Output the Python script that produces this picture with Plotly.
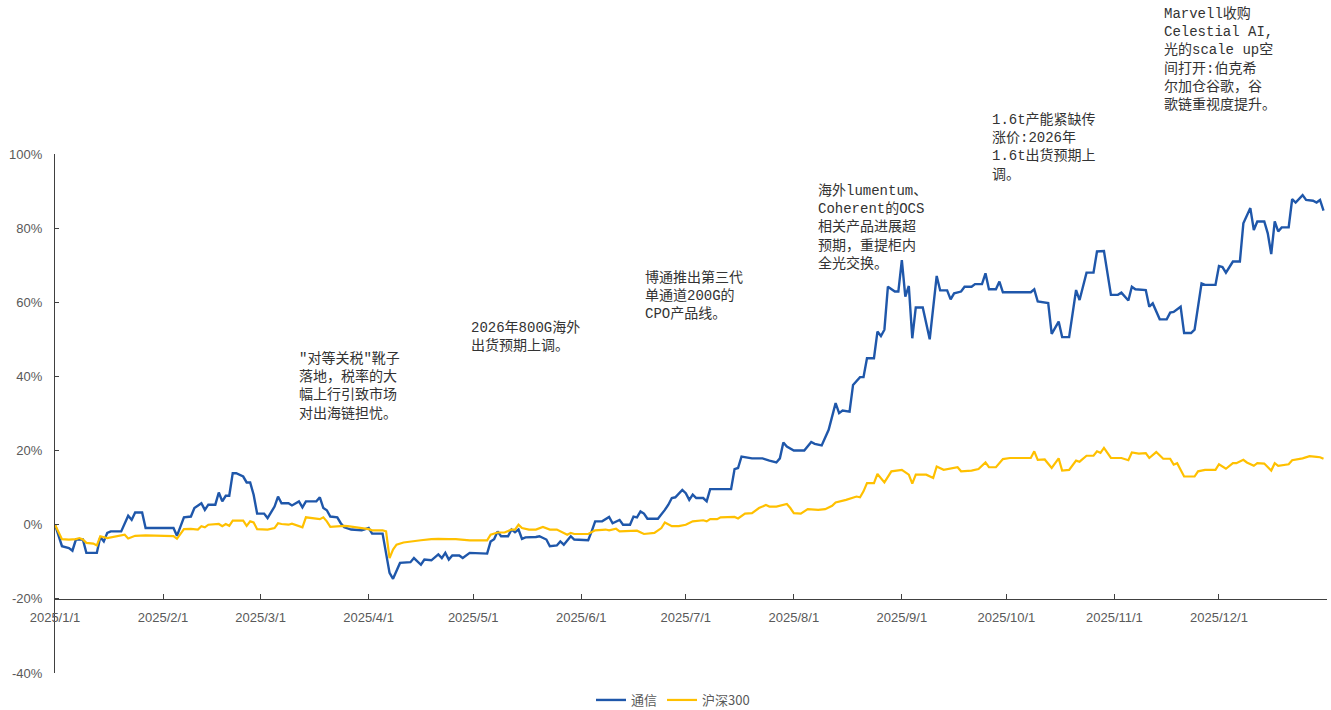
import plotly.graph_objects as go

# 通信 sector cumulative return (%)
tx_dates = [
    "2025-01-01", "2025-01-03", "2025-01-05", "2025-01-06", "2025-01-07", "2025-01-09", "2025-01-10",
    "2025-01-13", "2025-01-14", "2025-01-15", "2025-01-16", "2025-01-17", "2025-01-20", "2025-01-22",
    "2025-01-23", "2025-01-24", "2025-01-26", "2025-01-27", "2025-02-04", "2025-02-05", "2025-02-07",
    "2025-02-09", "2025-02-10", "2025-02-12", "2025-02-13", "2025-02-14", "2025-02-16", "2025-02-17",
    "2025-02-18", "2025-02-19", "2025-02-20", "2025-02-21", "2025-02-22", "2025-02-24", "2025-02-25",
    "2025-02-26", "2025-02-27", "2025-02-28", "2025-03-02", "2025-03-03", "2025-03-05", "2025-03-06",
    "2025-03-07", "2025-03-09", "2025-03-10", "2025-03-12", "2025-03-13", "2025-03-14", "2025-03-17",
    "2025-03-18", "2025-03-19", "2025-03-20", "2025-03-21", "2025-03-23", "2025-03-24", "2025-03-25",
    "2025-03-27", "2025-03-30", "2025-04-01", "2025-04-02", "2025-04-05", "2025-04-07", "2025-04-08",
    "2025-04-09", "2025-04-10", "2025-04-13", "2025-04-14", "2025-04-16", "2025-04-17", "2025-04-19",
    "2025-04-21", "2025-04-22", "2025-04-23", "2025-04-24", "2025-04-25", "2025-04-27", "2025-04-28",
    "2025-04-30", "2025-05-05", "2025-05-06", "2025-05-07", "2025-05-08", "2025-05-09", "2025-05-11",
    "2025-05-12", "2025-05-13", "2025-05-14", "2025-05-15", "2025-05-16", "2025-05-19", "2025-05-20",
    "2025-05-22", "2025-05-23", "2025-05-25", "2025-05-26", "2025-05-27", "2025-05-29", "2025-05-30",
    "2025-06-03", "2025-06-04", "2025-06-05", "2025-06-07", "2025-06-09", "2025-06-10", "2025-06-12",
    "2025-06-13", "2025-06-15", "2025-06-16", "2025-06-17", "2025-06-18", "2025-06-19", "2025-06-20",
    "2025-06-23", "2025-06-25", "2025-06-26", "2025-06-27", "2025-06-28", "2025-06-30", "2025-07-01",
    "2025-07-02", "2025-07-03", "2025-07-04", "2025-07-06", "2025-07-07", "2025-07-08", "2025-07-14",
    "2025-07-15", "2025-07-16", "2025-07-17", "2025-07-20", "2025-07-23", "2025-07-25", "2025-07-27",
    "2025-07-28", "2025-07-29", "2025-07-30", "2025-08-01", "2025-08-04", "2025-08-06", "2025-08-07",
    "2025-08-09", "2025-08-11", "2025-08-13", "2025-08-14", "2025-08-15", "2025-08-17", "2025-08-18",
    "2025-08-20", "2025-08-21", "2025-08-22", "2025-08-24", "2025-08-25", "2025-08-26", "2025-08-27",
    "2025-08-28", "2025-08-30", "2025-08-31", "2025-09-01", "2025-09-02", "2025-09-03", "2025-09-04",
    "2025-09-05", "2025-09-07", "2025-09-09", "2025-09-11", "2025-09-12", "2025-09-14", "2025-09-15",
    "2025-09-16", "2025-09-18", "2025-09-19", "2025-09-21", "2025-09-22", "2025-09-24", "2025-09-25",
    "2025-09-26", "2025-09-28", "2025-09-29", "2025-09-30", "2025-10-08", "2025-10-09", "2025-10-10",
    "2025-10-12", "2025-10-13", "2025-10-14", "2025-10-16", "2025-10-17", "2025-10-19", "2025-10-21",
    "2025-10-22", "2025-10-24", "2025-10-26", "2025-10-27", "2025-10-29", "2025-10-31", "2025-11-02",
    "2025-11-03", "2025-11-05", "2025-11-06", "2025-11-07", "2025-11-10", "2025-11-11", "2025-11-12",
    "2025-11-14", "2025-11-16", "2025-11-17", "2025-11-18", "2025-11-20", "2025-11-21", "2025-11-23",
    "2025-11-24", "2025-11-26", "2025-11-27", "2025-11-30", "2025-12-01", "2025-12-02", "2025-12-03",
    "2025-12-05", "2025-12-07", "2025-12-08", "2025-12-10", "2025-12-11", "2025-12-12", "2025-12-14",
    "2025-12-15", "2025-12-16", "2025-12-17", "2025-12-18", "2025-12-19", "2025-12-21", "2025-12-22",
    "2025-12-23", "2025-12-25", "2025-12-26", "2025-12-28", "2025-12-29", "2025-12-30", "2025-12-31",
]
tx_values = [
    0.0, -5.8, -6.3, -7.0, -4.0, -4.0, -7.6,
    -7.6, -3.3, -4.5, -2.2, -1.8, -1.8, 2.4,
    1.3, 3.3, 3.3, -0.9, -0.9, -3.0, 2.0,
    2.2, 4.5, 5.8, 4.0, 5.4, 5.4, 8.7,
    6.3, 7.8, 7.8, 13.9, 13.9, 13.0, 11.4,
    11.4, 8.1, 3.0, 3.0, 1.8, 4.9, 7.6,
    5.8, 5.8, 5.2, 6.3, 4.7, 6.3, 6.3,
    7.4, 4.5, 3.9, 2.2, 2.0, 0.4, -0.7,
    -1.3, -1.5, -0.9, -2.4, -2.4, -13.0, -14.6,
    -12.5, -10.3, -10.1, -9.0, -10.8, -9.4, -9.6,
    -8.0, -9.0, -7.6, -9.4, -8.3, -8.3, -9.0,
    -7.6, -7.8, -4.5, -3.9, -1.8, -3.1, -3.1,
    -1.3, -2.0, -1.3, -3.8, -3.4, -3.3, -3.1,
    -4.0, -5.8, -5.6, -4.5, -5.4, -3.1, -4.0,
    -4.2, -1.8, 0.9, 0.9, 2.1, 0.4, 1.3,
    0.0, 0.0, 2.2, 2.0, 3.6, 3.0, 1.6,
    1.6, 4.0, 5.4, 7.2, 7.4, 9.4, 8.5,
    6.7, 8.1, 7.2, 7.2, 6.3, 9.6, 9.6,
    15.0, 15.3, 18.4, 17.9, 17.9, 17.3, 16.8,
    17.9, 22.2, 21.1, 20.0, 20.0, 22.3, 21.8,
    21.4, 25.6, 32.8, 30.1, 30.8, 30.5, 37.7,
    39.8, 39.8, 44.9, 44.9, 52.1, 50.9, 52.6,
    64.2, 62.9, 62.9, 71.4, 61.5, 64.4, 50.3,
    58.6, 58.6, 50.0, 67.1, 63.2, 63.2, 60.8,
    62.4, 62.9, 64.2, 64.2, 64.9, 64.9, 67.8,
    63.5, 63.5, 65.6, 62.7, 62.7, 63.5, 60.2,
    60.0, 59.8, 51.5, 54.8, 50.6, 50.6, 63.3,
    60.6, 68.0, 68.0, 73.7, 73.8, 62.0, 62.0,
    62.6, 60.5, 64.2, 63.5, 63.3, 58.8, 59.7,
    55.4, 55.4, 57.2, 57.4, 58.8, 51.7, 51.7,
    52.6, 65.1, 64.7, 64.7, 69.8, 69.5, 68.0,
    71.0, 71.0, 81.3, 85.4, 79.5, 81.8, 81.8,
    78.6, 73.0, 81.8, 79.1, 80.2, 80.2, 87.8,
    86.9, 88.9, 87.6, 87.4, 86.9, 87.6, 84.7,
]

# 沪深300 cumulative return (%)
hs_dates = [
    "2025-01-01", "2025-01-03", "2025-01-05", "2025-01-07", "2025-01-08", "2025-01-09", "2025-01-10",
    "2025-01-12", "2025-01-13", "2025-01-14", "2025-01-16", "2025-01-18", "2025-01-19", "2025-01-21",
    "2025-01-22", "2025-01-24", "2025-01-27", "2025-02-04", "2025-02-05", "2025-02-07", "2025-02-09",
    "2025-02-11", "2025-02-12", "2025-02-13", "2025-02-14", "2025-02-17", "2025-02-18", "2025-02-19",
    "2025-02-20", "2025-02-21", "2025-02-24", "2025-02-25", "2025-02-26", "2025-02-27", "2025-02-28",
    "2025-03-02", "2025-03-03", "2025-03-05", "2025-03-06", "2025-03-07", "2025-03-09", "2025-03-10",
    "2025-03-12", "2025-03-13", "2025-03-14", "2025-03-17", "2025-03-18", "2025-03-19", "2025-03-20",
    "2025-03-21", "2025-03-23", "2025-03-25", "2025-03-26", "2025-03-28", "2025-03-30", "2025-04-01",
    "2025-04-02", "2025-04-05", "2025-04-06", "2025-04-07", "2025-04-08", "2025-04-09", "2025-04-11",
    "2025-04-13", "2025-04-16", "2025-04-19", "2025-04-21", "2025-04-24", "2025-04-26", "2025-04-30",
    "2025-05-05", "2025-05-06", "2025-05-08", "2025-05-10", "2025-05-12", "2025-05-13", "2025-05-14",
    "2025-05-15", "2025-05-17", "2025-05-19", "2025-05-21", "2025-05-23", "2025-05-25", "2025-05-28",
    "2025-05-29", "2025-05-30", "2025-06-03", "2025-06-05", "2025-06-08", "2025-06-09", "2025-06-11",
    "2025-06-12", "2025-06-15", "2025-06-17", "2025-06-19", "2025-06-22", "2025-06-24", "2025-06-25",
    "2025-06-27", "2025-06-29", "2025-07-01", "2025-07-03", "2025-07-06", "2025-07-07", "2025-07-08",
    "2025-07-10", "2025-07-11", "2025-07-15", "2025-07-16", "2025-07-18", "2025-07-20", "2025-07-22",
    "2025-07-24", "2025-07-25", "2025-07-27", "2025-07-29", "2025-07-30", "2025-07-31", "2025-08-01",
    "2025-08-03", "2025-08-05", "2025-08-08", "2025-08-10", "2025-08-12", "2025-08-13", "2025-08-16",
    "2025-08-18", "2025-08-19", "2025-08-20", "2025-08-21", "2025-08-22", "2025-08-24", "2025-08-25",
    "2025-08-27", "2025-08-29", "2025-09-01", "2025-09-03", "2025-09-04", "2025-09-05", "2025-09-08",
    "2025-09-10", "2025-09-11", "2025-09-13", "2025-09-17", "2025-09-18", "2025-09-21", "2025-09-23",
    "2025-09-25", "2025-09-26", "2025-09-28", "2025-09-30", "2025-10-02", "2025-10-08", "2025-10-09",
    "2025-10-10", "2025-10-12", "2025-10-14", "2025-10-16", "2025-10-17", "2025-10-19", "2025-10-21",
    "2025-10-22", "2025-10-24", "2025-10-26", "2025-10-27", "2025-10-28", "2025-10-29", "2025-10-31",
    "2025-11-03", "2025-11-05", "2025-11-06", "2025-11-08", "2025-11-10", "2025-11-11", "2025-11-13",
    "2025-11-15", "2025-11-17", "2025-11-18", "2025-11-19", "2025-11-21", "2025-11-24", "2025-11-25",
    "2025-11-27", "2025-11-29", "2025-11-30", "2025-12-01", "2025-12-03", "2025-12-05", "2025-12-06",
    "2025-12-08", "2025-12-09", "2025-12-11", "2025-12-12", "2025-12-14", "2025-12-16", "2025-12-17",
    "2025-12-18", "2025-12-21", "2025-12-22", "2025-12-25", "2025-12-27", "2025-12-29", "2025-12-30",
    "2025-12-31",
]
hs_values = [
    0.0, -3.9, -4.0, -3.9, -3.6, -4.0, -4.9,
    -5.1, -5.6, -3.1, -3.6, -3.3, -3.1, -2.7,
    -3.7, -3.0, -2.9, -3.1, -3.8, -1.2, -1.1,
    -1.3, -0.4, -0.7, 0.0, 0.2, -0.4, 0.2,
    -0.3, 1.1, 1.1, -0.3, 0.9, 0.6, -1.2,
    -1.2, -1.3, -0.9, 0.4, 0.2, 0.0, 0.3,
    -0.3, -0.7, 2.0, 1.7, 1.5, 2.0, 0.9,
    -0.6, -0.4, -0.3, -0.4, -0.6, -0.9, -1.2,
    -1.5, -1.5, -1.8, -9.0, -6.7, -5.4, -4.8,
    -4.5, -4.2, -3.9, -3.8, -3.9, -3.9, -4.2,
    -4.2, -2.7, -2.1, -2.1, -1.3, -1.3, 0.0,
    -0.9, -1.3, -1.3, -0.6, -1.3, -1.3, -2.7,
    -2.2, -2.5, -2.5, -1.5, -1.3, -1.5, -1.1,
    -1.8, -1.8, -1.6, -2.5, -2.2, -0.9, 0.6,
    -0.4, -0.4, 0.0, 0.9, 1.2, 0.9, 1.5,
    1.5, 2.0, 2.1, 1.7, 3.0, 3.1, 4.5,
    5.3, 4.9, 4.9, 5.4, 5.6, 4.5, 3.1,
    3.0, 4.2, 4.0, 4.2, 5.1, 6.0, 6.7,
    7.2, 7.6, 7.4, 9.0, 11.2, 11.2, 13.7,
    11.4, 14.4, 14.8, 13.5, 11.1, 13.5, 13.5,
    12.6, 15.7, 14.8, 15.5, 14.4, 14.6, 15.0,
    16.8, 15.5, 15.5, 17.7, 18.0, 18.0, 19.8,
    17.5, 17.6, 15.3, 17.9, 14.6, 14.8, 17.3,
    17.0, 18.6, 18.6, 19.8, 19.4, 20.7, 18.0,
    18.0, 17.4, 19.5, 19.2, 19.3, 18.0, 19.6,
    17.8, 17.8, 16.2, 16.6, 13.0, 13.0, 14.4,
    14.8, 14.9, 14.8, 16.3, 15.1, 16.6, 16.6,
    17.5, 16.8, 15.9, 16.6, 16.5, 14.6, 16.6,
    15.9, 16.3, 17.4, 17.9, 18.5, 18.3, 18.2,
    17.8,
]

# Axis ticks
x_tick_vals = [
    "2025-01-01", "2025-02-01", "2025-03-01", "2025-04-01", "2025-05-01", "2025-06-01", "2025-07-01",
    "2025-08-01", "2025-09-01", "2025-10-01", "2025-11-01", "2025-12-01", "2026-01-01",
]
x_tick_text = [
    "2025/1/1", "2025/2/1", "2025/3/1", "2025/4/1", "2025/5/1", "2025/6/1", "2025/7/1",
    "2025/8/1", "2025/9/1", "2025/10/1", "2025/11/1", "2025/12/1", "",
]
y_tick_vals = [-40, -20, 0, 20, 40, 60, 80, 100]
y_tick_text = ["-40%", "-20%", "0%", "20%", "40%", "60%", "80%", "100%"]

# Event notes: (text, left px, top px)
notes = [
    ("\"对等关税\"靴子<br>落地，税率的大<br>幅上行引致市场<br>对出海链担忧。", 297, 348),
    ("2026年800G海外<br>出货预期上调。", 469, 318),
    ("博通推出第三代<br>单通道200G的<br>CPO产品线。", 643, 267),
    ("海外lumentum、<br>Coherent的OCS<br>相关产品进展超<br>预期，重提柜内<br>全光交换。", 816, 181),
    ("1.6t产能紧缺传<br>涨价:2026年<br>1.6t出货预期上<br>调。", 990, 110),
    ("Marvell收购<br>Celestial AI,<br>光的scale up空<br>间打开:伯克希<br>尔加仓谷歌，谷<br>歌链重视度提升。", 1162, 4),
]

W, H = 1331, 710
M_L, M_R, M_T, M_B = 55, 4, 154, 37
PW = W - M_L - M_R
PH = H - M_T - M_B

BLUE = "#1F57AA"
GOLD = "#FFC000"
AXIS = "#404040"
LABEL = "#595959"

fig = go.Figure()
fig.add_trace(go.Scatter(x=tx_dates, y=tx_values, mode="lines", name="通信",
                         line=dict(color=BLUE, width=2.4)))
fig.add_trace(go.Scatter(x=hs_dates, y=hs_values, mode="lines", name="沪深300",
                         line=dict(color=GOLD, width=2.2)))

annotations = []
for text, px, py in notes:
    annotations.append(dict(
        text=text, xref="paper", yref="paper",
        x=(px - M_L) / PW, y=(H - M_B - py) / PH,
        xanchor="left", yanchor="top", align="left", showarrow=False,
        font=dict(family="Liberation Mono, Noto Sans CJK SC, monospace", size=14, color="#333333"),
    ))

fig.update_layout(
    width=W, height=H,
    margin=dict(l=M_L, r=M_R, t=M_T, b=M_B, autoexpand=False),
    paper_bgcolor="white", plot_bgcolor="white",
    showlegend=True,
    legend=dict(orientation="h", x=(673 - M_L) / PW, xanchor="center",
                y=-27 / PH, yanchor="middle",
                font=dict(family="Noto Sans CJK SC, Liberation Sans", size=13, color=LABEL),
                itemwidth=30, tracegroupgap=0),
    annotations=annotations,
    xaxis=dict(
        type="date", range=["2025-01-01", "2026-01-01"],
        anchor="free", position=20 / 140,
        showline=True, linecolor=AXIS, linewidth=1.3,
        showgrid=False, zeroline=False,
        tickmode="array", tickvals=x_tick_vals, ticktext=x_tick_text,
        ticks="inside", ticklen=5, tickcolor=AXIS, tickwidth=1.2,
        ticklabelstandoff=6,
        tickfont=dict(family="Liberation Sans, Arial", size=13, color=LABEL),
    ),
    yaxis=dict(
        range=[-40, 100], domain=[0, 1],
        showline=True, linecolor=AXIS, linewidth=1.3,
        showgrid=False, zeroline=False,
        tickmode="array", tickvals=y_tick_vals, ticktext=y_tick_text,
        ticks="inside", ticklen=4, tickcolor=AXIS, tickwidth=1.2,
        ticklabelstandoff=9,
        tickfont=dict(family="Liberation Sans, Arial", size=13, color=LABEL),
    ),
)

fig.write_html("out.html")
